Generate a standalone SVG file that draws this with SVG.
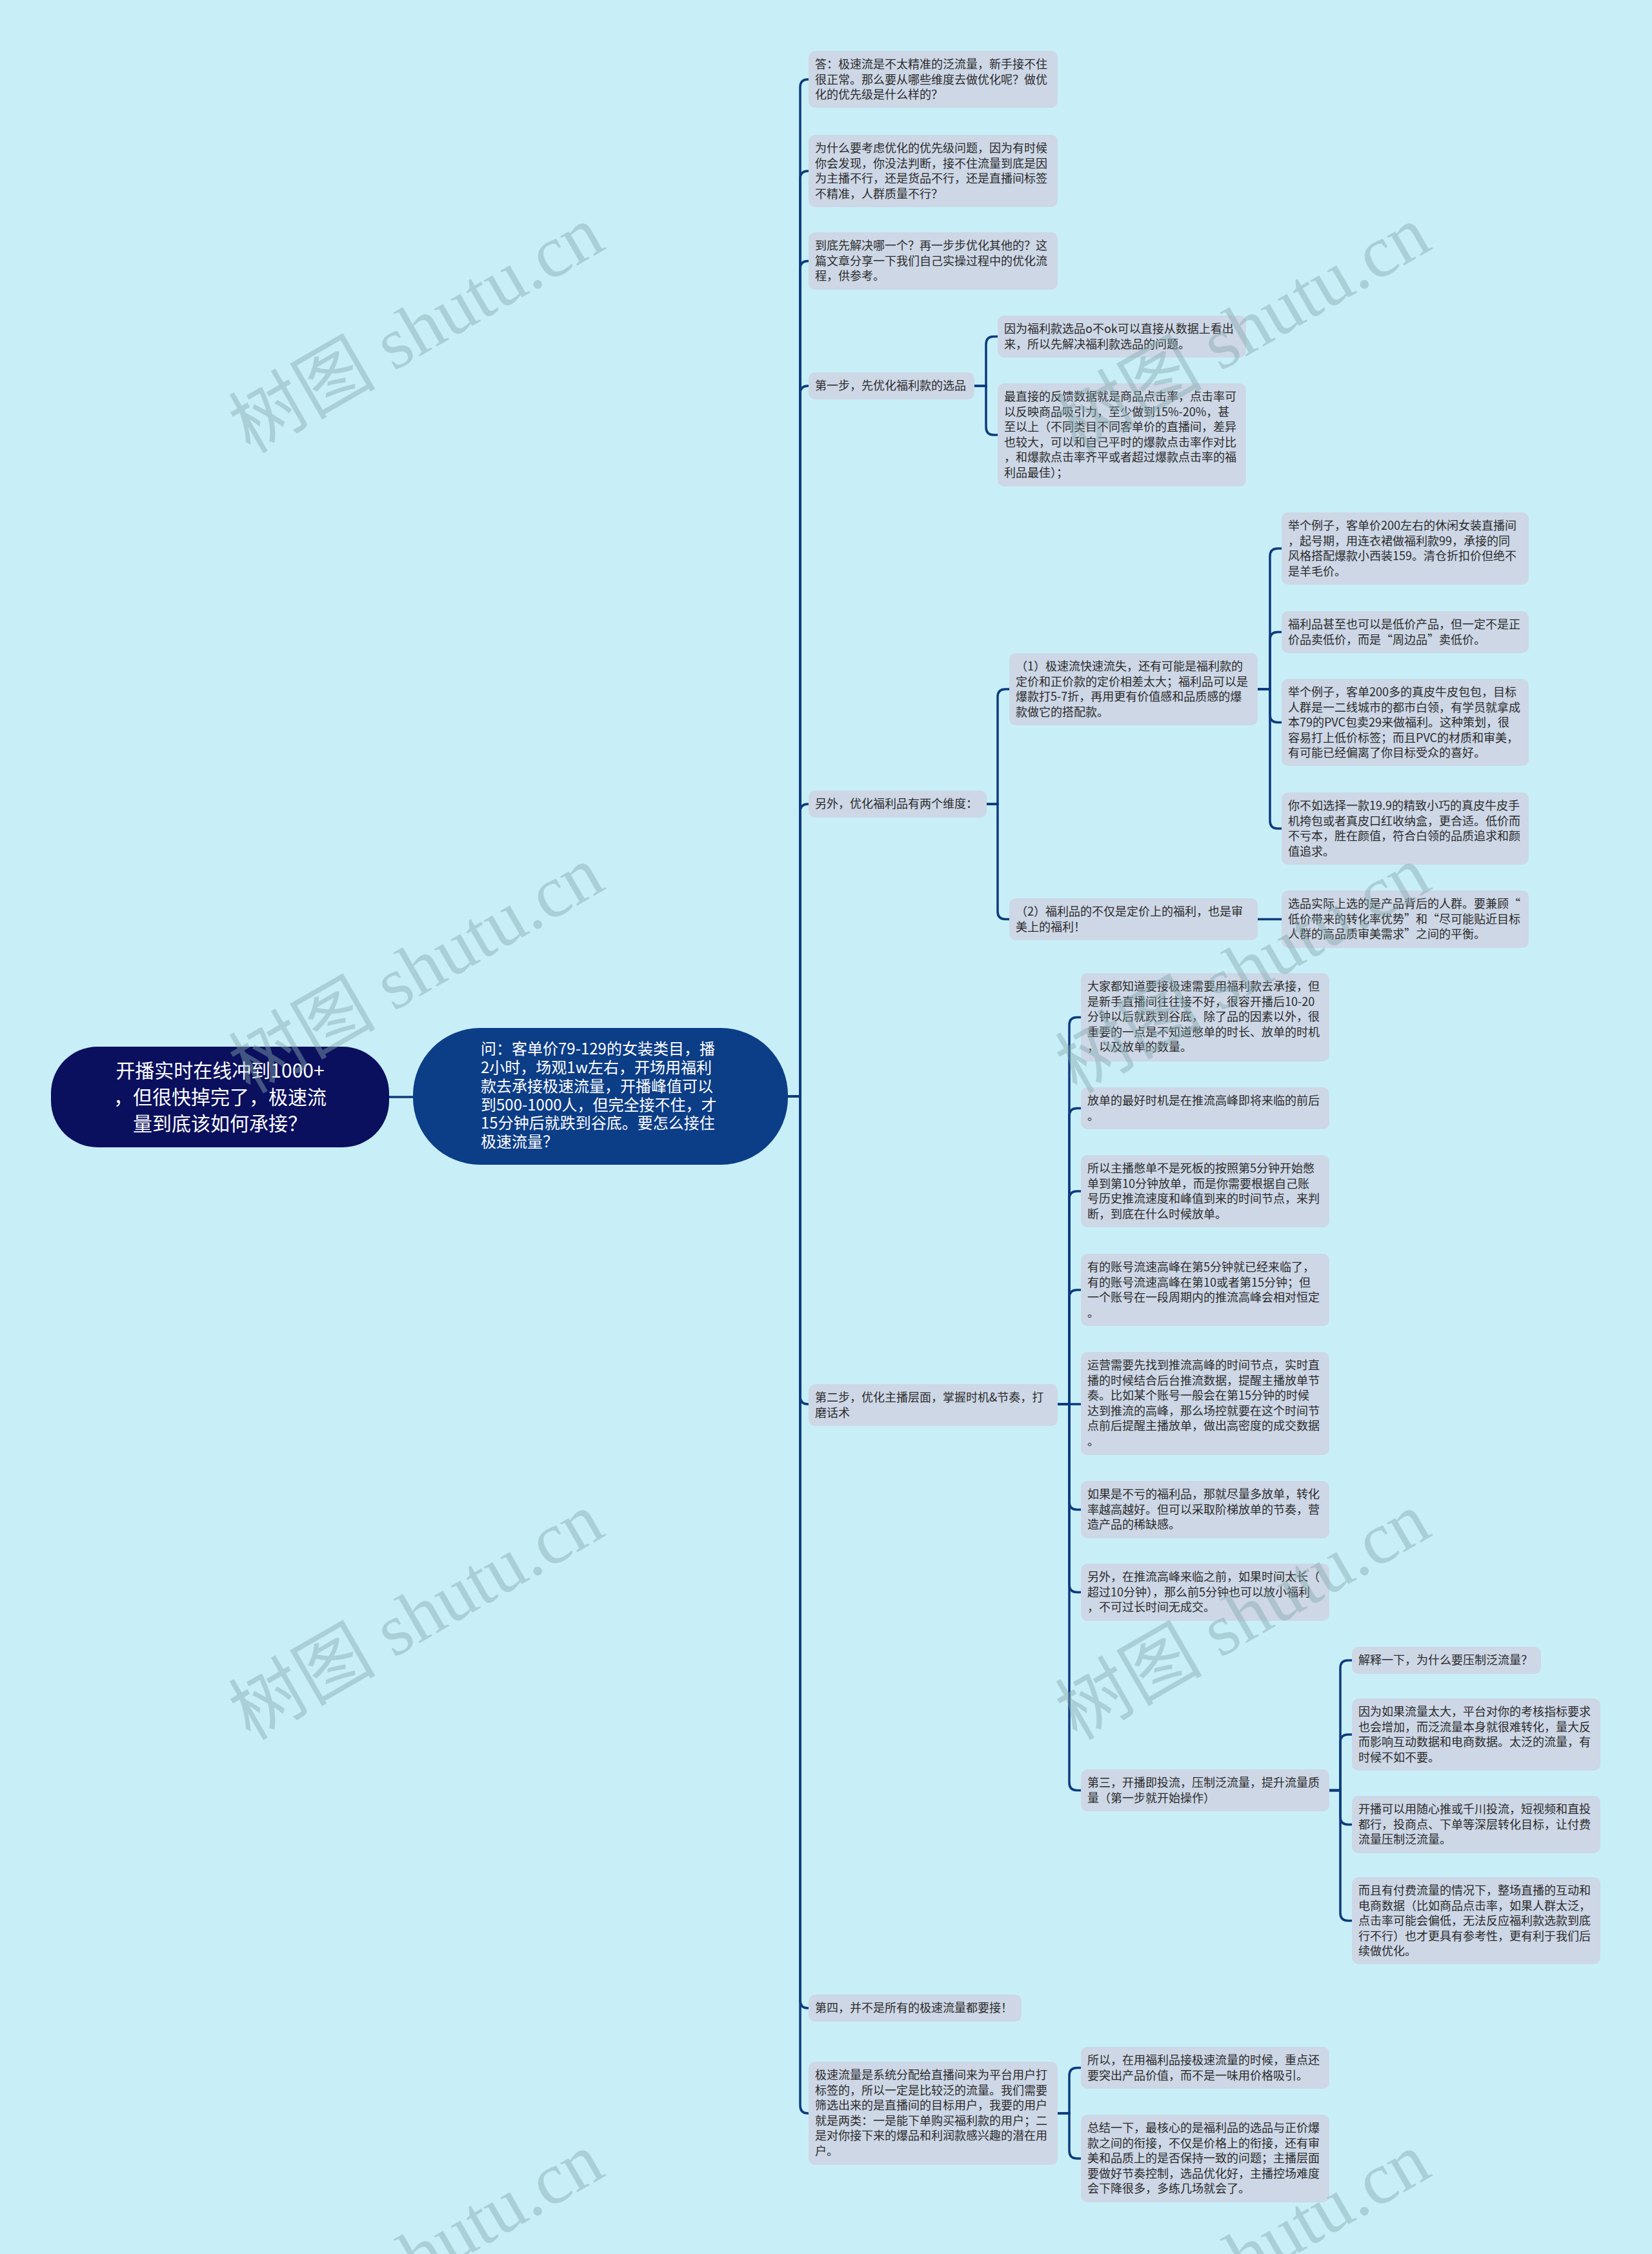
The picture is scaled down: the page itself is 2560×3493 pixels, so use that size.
<svg xmlns="http://www.w3.org/2000/svg" width="2560" height="3493" viewBox="0 0 2560 3493">
<style>
.bg{fill:#c8eff8}
.n rect{fill:#cdd7e6}
.n text{font-family:"Noto Sans CJK SC","Noto Sans",sans-serif;font-size:18px;fill:#2b2b2b}
.c path{fill:none;stroke:#0d3b7d;stroke-width:3.5;stroke-linecap:round}
.wm text{font-family:"Liberation Serif","Noto Sans CJK SC",serif;font-size:114px;fill:#86a9ae;opacity:0.45;text-anchor:middle}
.big text{font-family:"Noto Sans CJK SC","Noto Sans",sans-serif;fill:#ffffff}
</style>
<rect class="bg" x="0" y="0" width="2560" height="3493"/>

<g class="c" id="connectors">
<path d="M603 1700 H640"/>
<path d="M1221 1699 H1240 V135 Q1240 123 1252 123 H1253"/>
<path d="M1221 1699 H1240 V277 Q1240 265 1252 265 H1253"/>
<path d="M1221 1699 H1240 V416.5 Q1240 404.5 1252 404.5 H1253"/>
<path d="M1221 1699 H1240 V610 Q1240 598 1252 598 H1253"/>
<path d="M1221 1699 H1240 V1258 Q1240 1246 1252 1246 H1253"/>
<path d="M1221 1699 H1240 V2164 Q1240 2176 1252 2176 H1253"/>
<path d="M1221 1699 H1240 V3100 Q1240 3112 1252 3112 H1253"/>
<path d="M1221 1699 H1240 V3263 Q1240 3275 1252 3275 H1253"/>
<path d="M1510 598 H1528 V533.5 Q1528 521.5 1540 521.5 H1546"/>
<path d="M1510 598 H1528 V662 Q1528 674 1540 674 H1546"/>
<path d="M1529 1246 H1546 V1080 Q1546 1068 1558 1068 H1564"/>
<path d="M1529 1246 H1546 V1412.5 Q1546 1424.5 1558 1424.5 H1564"/>
<path d="M1949 1068 H1968 V862 Q1968 850 1980 850 H1986"/>
<path d="M1949 1068 H1968 V991.5 Q1968 979.5 1980 979.5 H1986"/>
<path d="M1949 1068 H1968 V1107.5 Q1968 1119.5 1980 1119.5 H1986"/>
<path d="M1949 1068 H1968 V1272 Q1968 1284 1980 1284 H1986"/>
<path d="M1949 1424.5 H1986"/>
<path d="M1639 2176 H1657 V1588.5 Q1657 1576.5 1669 1576.5 H1675"/>
<path d="M1639 2176 H1657 V1729.5 Q1657 1717.5 1669 1717.5 H1675"/>
<path d="M1639 2176 H1657 V1858 Q1657 1846 1669 1846 H1675"/>
<path d="M1639 2176 H1657 V2011 Q1657 1999 1669 1999 H1675"/>
<path d="M1639 2176 H1675"/>
<path d="M1639 2176 H1657 V2327.5 Q1657 2339.5 1669 2339.5 H1675"/>
<path d="M1639 2176 H1657 V2455.5 Q1657 2467.5 1669 2467.5 H1675"/>
<path d="M1639 2176 H1657 V2762.5 Q1657 2774.5 1669 2774.5 H1675"/>
<path d="M2060 2774.5 H2077 V2585 Q2077 2573 2089 2573 H2095"/>
<path d="M2060 2774.5 H2077 V2700 Q2077 2688 2089 2688 H2095"/>
<path d="M2060 2774.5 H2077 V2815.5 Q2077 2827.5 2089 2827.5 H2095"/>
<path d="M2060 2774.5 H2077 V2964.5 Q2077 2976.5 2089 2976.5 H2095"/>
<path d="M1639 3275 H1657 V3216.5 Q1657 3204.5 1669 3204.5 H1675"/>
<path d="M1639 3275 H1657 V3333 Q1657 3345 1669 3345 H1675"/>
</g>

<g class="big" id="root">
<rect x="79" y="1622" width="524" height="156" rx="72" fill="#0a0f5e"/>
<text font-size="30" text-anchor="middle"><tspan x="341" y="1670">开播实时在线冲到1000+</tspan><tspan x="341" y="1711">，但很快掉完了，极速流</tspan><tspan x="341" y="1752">量到底该如何承接？</tspan></text>
</g>

<g class="big" id="center">
<rect x="640" y="1593" width="581" height="212" rx="104" fill="#0c3d87"/>
<text font-size="24"><tspan x="745" y="1634">问：客单价79-129的女装类目，播</tspan><tspan x="745" y="1663">2小时，场观1w左右，开场用福利</tspan><tspan x="745" y="1692">款去承接极速流量，开播峰值可以</tspan><tspan x="745" y="1721">到500-1000人，但完全接不住，才</tspan><tspan x="745" y="1749">15分钟后就跌到谷底。要怎么接住</tspan><tspan x="745" y="1778">极速流量？</tspan></text>
</g>

<g class="n" id="n1"><rect x="1253" y="79" width="386" height="88" rx="10"/><text><tspan x="1263" y="106">答：极速流是不太精准的泛流量，新手接不住</tspan><tspan x="1263" y="129.5">很正常。那么要从哪些维度去做优化呢？做优</tspan><tspan x="1263" y="153">化的优先级是什么样的？</tspan></text></g>
<g class="n" id="n2"><rect x="1253" y="209" width="386" height="112" rx="10"/><text><tspan x="1263" y="236">为什么要考虑优化的优先级问题，因为有时候</tspan><tspan x="1263" y="259.5">你会发现，你没法判断，接不住流量到底是因</tspan><tspan x="1263" y="283">为主播不行，还是货品不行，还是直播间标签</tspan><tspan x="1263" y="306.5">不精准，人群质量不行？</tspan></text></g>
<g class="n" id="n3"><rect x="1253" y="360" width="386" height="89" rx="10"/><text><tspan x="1263" y="387">到底先解决哪一个？再一步步优化其他的？这</tspan><tspan x="1263" y="410.5">篇文章分享一下我们自己实操过程中的优化流</tspan><tspan x="1263" y="434">程，供参考。</tspan></text></g>
<g class="n" id="n4"><rect x="1253" y="577" width="257" height="42" rx="10"/><text><tspan x="1263" y="604">第一步，先优化福利款的选品</tspan></text></g>
<g class="n" id="n4a"><rect x="1546" y="489" width="385" height="65" rx="10"/><text><tspan x="1556" y="516">因为福利款选品o不ok可以直接从数据上看出</tspan><tspan x="1556" y="539.5">来，所以先解决福利款选品的问题。</tspan></text></g>
<g class="n" id="n4b"><rect x="1546" y="594" width="385" height="160" rx="10"/><text><tspan x="1556" y="621">最直接的反馈数据就是商品点击率，点击率可</tspan><tspan x="1556" y="644.5">以反映商品吸引力，至少做到15%-20%，甚</tspan><tspan x="1556" y="668">至以上（不同类目不同客单价的直播间，差异</tspan><tspan x="1556" y="691.5">也较大，可以和自己平时的爆款点击率作对比</tspan><tspan x="1556" y="715">，和爆款点击率齐平或者超过爆款点击率的福</tspan><tspan x="1556" y="738.5">利品最佳）；</tspan></text></g>
<g class="n" id="n5"><rect x="1253" y="1225" width="276" height="42" rx="10"/><text><tspan x="1263" y="1252">另外，优化福利品有两个维度：</tspan></text></g>
<g class="n" id="n5a"><rect x="1564" y="1012" width="385" height="112" rx="10"/><text><tspan x="1574" y="1039">（1）极速流快速流失，还有可能是福利款的</tspan><tspan x="1574" y="1062.5">定价和正价款的定价相差太大；福利品可以是</tspan><tspan x="1574" y="1086">爆款打5-7折，再用更有价值感和品质感的爆</tspan><tspan x="1574" y="1109.5">款做它的搭配款。</tspan></text></g>
<g class="n" id="n5a1"><rect x="1986" y="794" width="383" height="112" rx="10"/><text><tspan x="1996" y="821">举个例子，客单价200左右的休闲女装直播间</tspan><tspan x="1996" y="844.5">，起号期，用连衣裙做福利款99，承接的同</tspan><tspan x="1996" y="868">风格搭配爆款小西装159。清仓折扣价但绝不</tspan><tspan x="1996" y="891.5">是羊毛价。</tspan></text></g>
<g class="n" id="n5a2"><rect x="1986" y="947" width="383" height="65" rx="10"/><text><tspan x="1996" y="974">福利品甚至也可以是低价产品，但一定不是正</tspan><tspan x="1996" y="997.5">价品卖低价，而是“周边品”卖低价。</tspan></text></g>
<g class="n" id="n5a3"><rect x="1986" y="1052" width="383" height="135" rx="10"/><text><tspan x="1996" y="1079">举个例子，客单200多的真皮牛皮包包，目标</tspan><tspan x="1996" y="1102.5">人群是一二线城市的都市白领，有学员就拿成</tspan><tspan x="1996" y="1126">本79的PVC包卖29来做福利。这种策划，很</tspan><tspan x="1996" y="1149.5">容易打上低价标签；而且PVC的材质和审美，</tspan><tspan x="1996" y="1173">有可能已经偏离了你目标受众的喜好。</tspan></text></g>
<g class="n" id="n5a4"><rect x="1986" y="1228" width="383" height="112" rx="10"/><text><tspan x="1996" y="1255">你不如选择一款19.9的精致小巧的真皮牛皮手</tspan><tspan x="1996" y="1278.5">机挎包或者真皮口红收纳盒，更合适。低价而</tspan><tspan x="1996" y="1302">不亏本，胜在颜值，符合白领的品质追求和颜</tspan><tspan x="1996" y="1325.5">值追求。</tspan></text></g>
<g class="n" id="n5b"><rect x="1564" y="1392" width="385" height="65" rx="10"/><text><tspan x="1574" y="1419">（2）福利品的不仅是定价上的福利，也是审</tspan><tspan x="1574" y="1442.5">美上的福利！</tspan></text></g>
<g class="n" id="n5b1"><rect x="1986" y="1380" width="383" height="89" rx="10"/><text><tspan x="1996" y="1407">选品实际上选的是产品背后的人群。要兼顾“</tspan><tspan x="1996" y="1430.5">低价带来的转化率优势”和“尽可能贴近目标</tspan><tspan x="1996" y="1454">人群的高品质审美需求”之间的平衡。</tspan></text></g>
<g class="n" id="n6"><rect x="1253" y="2145" width="386" height="65" rx="10"/><text><tspan x="1263" y="2172">第二步，优化主播层面，掌握时机&amp;节奏，打</tspan><tspan x="1263" y="2195.5">磨话术</tspan></text></g>
<g class="n" id="n6a"><rect x="1675" y="1508" width="385" height="137" rx="10"/><text><tspan x="1685" y="1535">大家都知道要接极速需要用福利款去承接，但</tspan><tspan x="1685" y="1558.5">是新手直播间往往接不好，很容开播后10-20</tspan><tspan x="1685" y="1582">分钟以后就跌到谷底，除了品的因素以外，很</tspan><tspan x="1685" y="1605.5">重要的一点是不知道憋单的时长、放单的时机</tspan><tspan x="1685" y="1629">，以及放单的数量。</tspan></text></g>
<g class="n" id="n6b"><rect x="1675" y="1685" width="385" height="65" rx="10"/><text><tspan x="1685" y="1712">放单的最好时机是在推流高峰即将来临的前后</tspan><tspan x="1685" y="1735.5">。</tspan></text></g>
<g class="n" id="n6c"><rect x="1675" y="1790" width="385" height="112" rx="10"/><text><tspan x="1685" y="1817">所以主播憋单不是死板的按照第5分钟开始憋</tspan><tspan x="1685" y="1840.5">单到第10分钟放单，而是你需要根据自己账</tspan><tspan x="1685" y="1864">号历史推流速度和峰值到来的时间节点，来判</tspan><tspan x="1685" y="1887.5">断，到底在什么时候放单。</tspan></text></g>
<g class="n" id="n6d"><rect x="1675" y="1943" width="385" height="112" rx="10"/><text><tspan x="1685" y="1970">有的账号流速高峰在第5分钟就已经来临了，</tspan><tspan x="1685" y="1993.5">有的账号流速高峰在第10或者第15分钟；但</tspan><tspan x="1685" y="2017">一个账号在一段周期内的推流高峰会相对恒定</tspan><tspan x="1685" y="2040.5">。</tspan></text></g>
<g class="n" id="n6e"><rect x="1675" y="2095" width="385" height="160" rx="10"/><text><tspan x="1685" y="2122">运营需要先找到推流高峰的时间节点，实时直</tspan><tspan x="1685" y="2145.5">播的时候结合后台推流数据，提醒主播放单节</tspan><tspan x="1685" y="2169">奏。比如某个账号一般会在第15分钟的时候</tspan><tspan x="1685" y="2192.5">达到推流的高峰，那么场控就要在这个时间节</tspan><tspan x="1685" y="2216">点前后提醒主播放单，做出高密度的成交数据</tspan><tspan x="1685" y="2239.5">。</tspan></text></g>
<g class="n" id="n6f"><rect x="1675" y="2295" width="385" height="89" rx="10"/><text><tspan x="1685" y="2322">如果是不亏的福利品，那就尽量多放单，转化</tspan><tspan x="1685" y="2345.5">率越高越好。但可以采取阶梯放单的节奏，营</tspan><tspan x="1685" y="2369">造产品的稀缺感。</tspan></text></g>
<g class="n" id="n6g"><rect x="1675" y="2423" width="385" height="89" rx="10"/><text><tspan x="1685" y="2450">另外，在推流高峰来临之前，如果时间太长（</tspan><tspan x="1685" y="2473.5">超过10分钟），那么前5分钟也可以放小福利</tspan><tspan x="1685" y="2497">，不可过长时间无成交。</tspan></text></g>
<g class="n" id="n6h"><rect x="1675" y="2742" width="385" height="65" rx="10"/><text><tspan x="1685" y="2769">第三，开播即投流，压制泛流量，提升流量质</tspan><tspan x="1685" y="2792.5">量（第一步就开始操作）</tspan></text></g>
<g class="n" id="n6h1"><rect x="2095" y="2552" width="293" height="42" rx="10"/><text><tspan x="2105" y="2579">解释一下，为什么要压制泛流量？</tspan></text></g>
<g class="n" id="n6h2"><rect x="2095" y="2632" width="385" height="112" rx="10"/><text><tspan x="2105" y="2659">因为如果流量太大，平台对你的考核指标要求</tspan><tspan x="2105" y="2682.5">也会增加，而泛流量本身就很难转化，量大反</tspan><tspan x="2105" y="2706">而影响互动数据和电商数据。太泛的流量，有</tspan><tspan x="2105" y="2729.5">时候不如不要。</tspan></text></g>
<g class="n" id="n6h3"><rect x="2095" y="2783" width="385" height="89" rx="10"/><text><tspan x="2105" y="2810">开播可以用随心推或千川投流，短视频和直投</tspan><tspan x="2105" y="2833.5">都行，投商点、下单等深层转化目标，让付费</tspan><tspan x="2105" y="2857">流量压制泛流量。</tspan></text></g>
<g class="n" id="n6h4"><rect x="2095" y="2909" width="385" height="135" rx="10"/><text><tspan x="2105" y="2936">而且有付费流量的情况下，整场直播的互动和</tspan><tspan x="2105" y="2959.5">电商数据（比如商品点击率，如果人群太泛，</tspan><tspan x="2105" y="2983">点击率可能会偏低，无法反应福利款选款到底</tspan><tspan x="2105" y="3006.5">行不行）也才更具有参考性，更有利于我们后</tspan><tspan x="2105" y="3030">续做优化。</tspan></text></g>
<g class="n" id="n7"><rect x="1253" y="3091" width="330" height="42" rx="10"/><text><tspan x="1263" y="3118">第四，并不是所有的极速流量都要接！</tspan></text></g>
<g class="n" id="n8"><rect x="1253" y="3195" width="386" height="160" rx="10"/><text><tspan x="1263" y="3222">极速流量是系统分配给直播间来为平台用户打</tspan><tspan x="1263" y="3245.5">标签的，所以一定是比较泛的流量。我们需要</tspan><tspan x="1263" y="3269">筛选出来的是直播间的目标用户，我要的用户</tspan><tspan x="1263" y="3292.5">就是两类：一是能下单购买福利款的用户；二</tspan><tspan x="1263" y="3316">是对你接下来的爆品和利润款感兴趣的潜在用</tspan><tspan x="1263" y="3339.5">户。</tspan></text></g>
<g class="n" id="n8a"><rect x="1675" y="3172" width="385" height="65" rx="10"/><text><tspan x="1685" y="3199">所以，在用福利品接极速流量的时候，重点还</tspan><tspan x="1685" y="3222.5">要突出产品价值，而不是一味用价格吸引。</tspan></text></g>
<g class="n" id="n8b"><rect x="1675" y="3277" width="385" height="136" rx="10"/><text><tspan x="1685" y="3304">总结一下，最核心的是福利品的选品与正价爆</tspan><tspan x="1685" y="3327.5">款之间的衔接，不仅是价格上的衔接，还有审</tspan><tspan x="1685" y="3351">美和品质上的是否保持一致的问题；主播层面</tspan><tspan x="1685" y="3374.5">要做好节奏控制，选品优化好，主播控场难度</tspan><tspan x="1685" y="3398">会下降很多，多练几场就会了。</tspan></text></g>

<g class="wm" id="watermarks">
<text x="646" y="549" transform="rotate(-30 646 512)">树图 shutu.cn</text>
<text x="1927" y="549" transform="rotate(-30 1927 512)">树图 shutu.cn</text>
<text x="646" y="1541" transform="rotate(-30 646 1504)">树图 shutu.cn</text>
<text x="1927" y="1541" transform="rotate(-30 1927 1504)">树图 shutu.cn</text>
<text x="646" y="2543" transform="rotate(-30 646 2506)">树图 shutu.cn</text>
<text x="1927" y="2543" transform="rotate(-30 1927 2506)">树图 shutu.cn</text>
<text x="646" y="3535" transform="rotate(-30 646 3498)">树图 shutu.cn</text>
<text x="1927" y="3535" transform="rotate(-30 1927 3498)">树图 shutu.cn</text>
</g>
</svg>
